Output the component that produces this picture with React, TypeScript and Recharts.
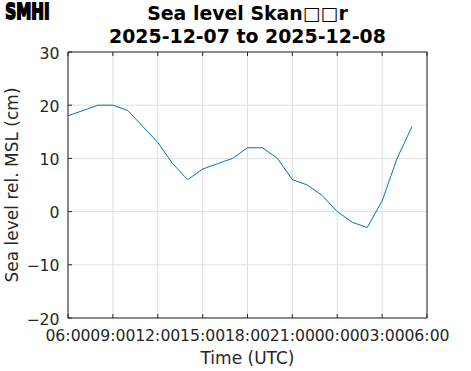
import React from 'react';
import { LineChart, Line, XAxis, YAxis, CartesianGrid } from 'recharts';

const hours = [0, 1, 2, 3, 4, 5, 6, 7, 8, 9, 10, 11, 12, 13, 14, 15, 16, 17, 18, 19, 20, 21, 22, 23];
const seaLevel = [18, 19, 20, 20, 19, 16, 13, 9, 6, 8, 9, 10, 12, 12, 10, 6, 5, 3, 0, -2, -3, 2, 10, 16];
const xTicks = [0, 3, 6, 9, 12, 15, 18, 21, 24];
const xTickLabels = ['06:00', '09:00', '12:00', '15:00', '18:00', '21:00', '00:00', '03:00', '06:00'];
const yTicks = [-20, -10, 0, 10, 20, 30];

const titleLine1 = 'Sea level Skan\u25A1\u25A1r';
const titleLine2 = '2025-12-07 to 2025-12-08';
const xLabel = 'Time (UTC)';
const yLabel = 'Sea level rel. MSL (cm)';

const data = hours.map((h, i) => ({ h, v: seaLevel[i] }));

const AX = '#262626';
const FONT = '"DejaVu Sans", sans-serif';
const TICK_FS = 15.7;
const TL = 4;

const BottomTick = (props: any) => {
  const { x, y, payload } = props;
  const idx = xTicks.indexOf(payload.value);
  return (
    <g>
      <line x1={x} x2={x} y1={y} y2={y - TL} stroke={AX} strokeWidth={1} />
      <text x={x} y={y + 23} textAnchor="middle" fontFamily={FONT} fontSize={TICK_FS} fill={AX}>
        {idx >= 0 ? xTickLabels[idx] : ''}
      </text>
    </g>
  );
};

const TopTick = (props: any) => {
  const { x, y } = props;
  return <line x1={x} x2={x} y1={y} y2={y + TL} stroke={AX} strokeWidth={1} />;
};

const LeftTick = (props: any) => {
  const { x, y, payload } = props;
  const label = String(payload.value).replace('-', '\u2212');
  return (
    <g>
      <line x1={x} x2={x + TL} y1={y} y2={y} stroke={AX} strokeWidth={1} />
      <text x={x - 8.5} y={y + 6.5} textAnchor="end" fontFamily={FONT} fontSize={TICK_FS} fill={AX}>
        {label}
      </text>
    </g>
  );
};

const RightTick = (props: any) => {
  const { x, y } = props;
  return <line x1={x} x2={x - TL} y1={y} y2={y} stroke={AX} strokeWidth={1} />;
};

export default function App() {
  return (
    <div style={{ position: 'absolute', left: 0, top: 0, width: 471, height: 371, background: '#fff' }}>
      <LineChart width={471} height={371} data={data} margin={{ top: 51, right: 43, bottom: 23, left: 28 }}>
        <CartesianGrid stroke="#dfdfdf" strokeWidth={1} horizontalValues={yTicks} verticalValues={xTicks} />
        <XAxis
          xAxisId={0}
          dataKey="h"
          type="number"
          domain={[0, 24]}
          ticks={xTicks}
          interval={0}
          height={30}
          tickSize={0}
          tickMargin={0}
          tickLine={false}
          axisLine={{ stroke: AX, strokeWidth: 1 }}
          tick={<BottomTick />}
        />
        <XAxis
          xAxisId="top"
          orientation="top"
          dataKey="h"
          type="number"
          domain={[0, 24]}
          ticks={xTicks}
          interval={0}
          height={1}
          tickSize={0}
          tickMargin={0}
          tickLine={false}
          axisLine={{ stroke: AX, strokeWidth: 1 }}
          tick={<TopTick />}
        />
        <YAxis
          yAxisId={0}
          type="number"
          domain={[-20, 30]}
          ticks={yTicks}
          interval={0}
          width={40}
          tickSize={0}
          tickMargin={0}
          tickLine={false}
          axisLine={{ stroke: AX, strokeWidth: 1 }}
          tick={<LeftTick />}
        />
        <YAxis
          yAxisId="right"
          orientation="right"
          type="number"
          domain={[-20, 30]}
          ticks={yTicks}
          interval={0}
          width={1}
          tickSize={0}
          tickMargin={0}
          tickLine={false}
          axisLine={{ stroke: AX, strokeWidth: 1 }}
          tick={<RightTick />}
        />
        <Line
          xAxisId={0}
          yAxisId={0}
          type="linear"
          dataKey="v"
          stroke="#0072BD"
          strokeWidth={1}
          dot={false}
          isAnimationActive={false}
        />
      </LineChart>
      <svg width={471} height={371} style={{ position: 'absolute', left: 0, top: 0, pointerEvents: 'none' }}>
        <text x={5.2} y={19.2} fontFamily={FONT} fontWeight="bold" fontSize={22} textLength={44.5} lengthAdjust="spacingAndGlyphs" fill="#000" stroke="#000" strokeWidth={1.8} strokeLinejoin="miter">
          SMHI
        </text>
        <text x={247.5} y={20} textAnchor="middle" fontFamily={FONT} fontWeight="bold" fontSize={18.9} fill="#000">
          {titleLine1}
        </text>
        <text x={247.5} y={43.3} textAnchor="middle" fontFamily={FONT} fontWeight="bold" fontSize={18.9} fill="#000">
          {titleLine2}
        </text>
        <text x={247.5} y={364} textAnchor="middle" fontFamily={FONT} fontSize={17} fill={AX}>
          {xLabel}
        </text>
        <text x={18} y={185} transform="rotate(-90 18 185)" textAnchor="middle" fontFamily={FONT} fontSize={17} fill={AX}>
          {yLabel}
        </text>
      </svg>
    </div>
  );
}
